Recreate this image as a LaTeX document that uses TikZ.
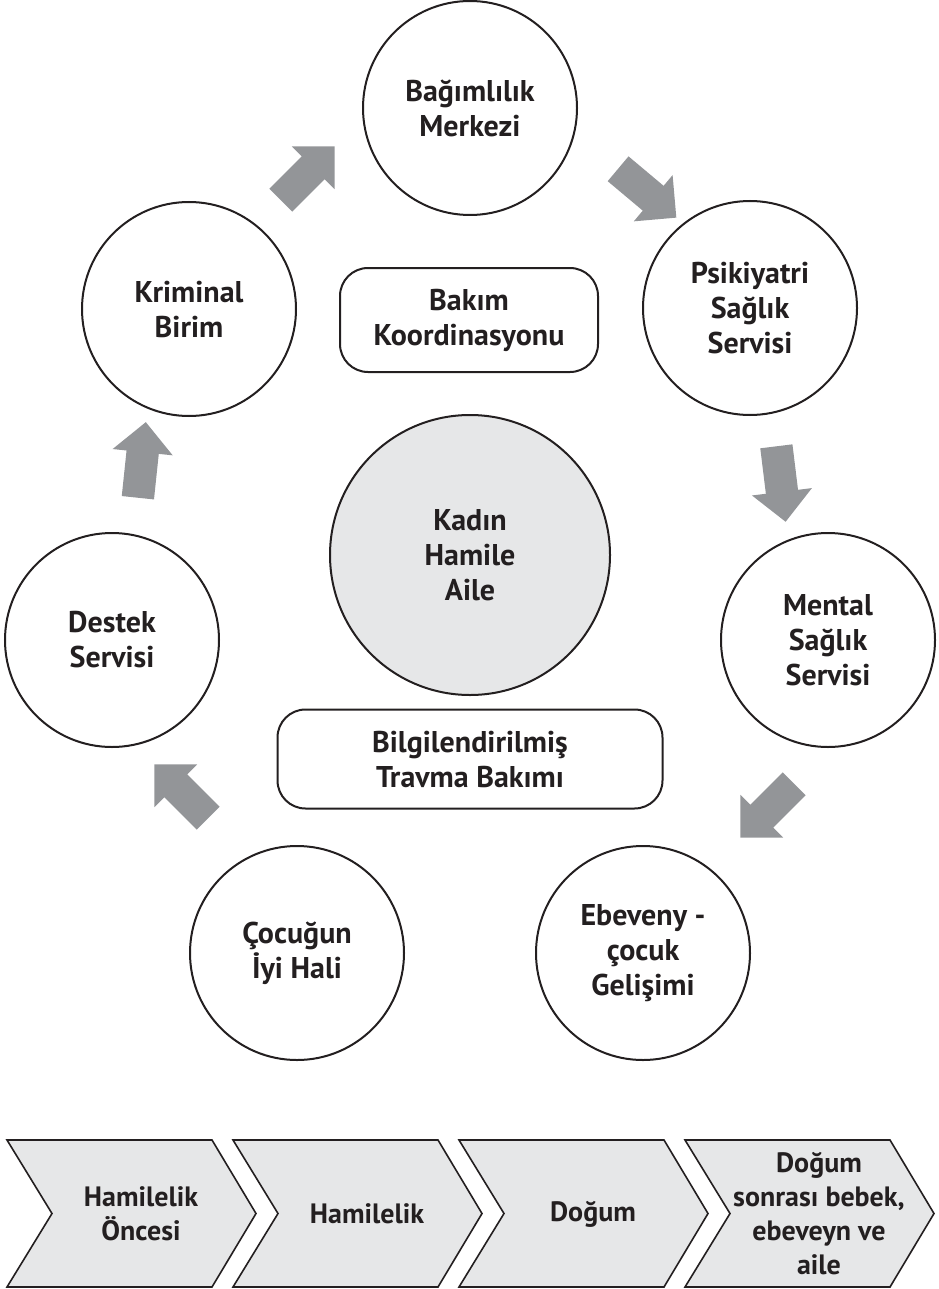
\documentclass[tikz,border=0pt]{standalone}
\usepackage{fontspec}
\setmainfont{PT Sans}
\usetikzlibrary{shapes.arrows}
\definecolor{CareGray}{RGB}{230,231,232}
\definecolor{FlowGray}{RGB}{147,149,152}
\definecolor{InkBlack}{RGB}{35,31,32}

\begin{document}
\begin{tikzpicture}[x=1pt,y=1pt,
  every node/.style={text=InkBlack,align=center,font=\bfseries\fontsize{30}{35}\selectfont},
  station/.style={circle,draw=InkBlack,line width=2pt,minimum size=214pt,inner sep=0pt},
  careframe/.style={rectangle,rounded corners=28pt,draw=InkBlack,line width=2pt,inner sep=0pt},
  flow/.style={single arrow,fill=FlowGray,draw=none,inner xsep=0pt,inner ysep=16pt,
    minimum height=76pt,single arrow head extend=14pt,single arrow tip angle=90},
  phase/.style={fill=CareGray,draw=InkBlack,line width=1.6pt,line join=miter},
  phasetext/.style={font=\bfseries\fontsize{28}{34}\selectfont}]
\useasboundingbox (0,0) rectangle (938,-1289);

% ring of services
\node[station] (bag) at (470,-108) {Bağımlılık\\Merkezi};
\node[station] (krim) at (189,-309) {Kriminal\\Birim};
\node[station] (psik) at (750,-308) {Psikiyatri\\Sağlık\\Servisi};
\node[station] (dest) at (112,-640) {Destek\\Servisi};
\node[station] (ment) at (828,-640) {Mental\\Sağlık\\Servisi};
\node[station] (cocuk) at (297,-953) {Çocuğun\\İyi Hali};
\node[station] (ebev) at (643,-953) {Ebeveny -\\çocuk\\Gelişimi};

% centre
\node[station,fill=CareGray,minimum size=280pt] (kadin) at (470,-555) {Kadın\\Hamile\\Aile};
\node[careframe,minimum width=258pt,minimum height=104pt] (koord) at (469,-320) {Bakım\\Koordinasyonu};
\node[careframe,minimum width=385pt,minimum height=99pt] (travma) at (470,-759) {Bilgilendirilmiş\\Travma Bakımı};

% block arrows round the ring
\node[flow,rotate=45] (f1) at (302,-179) {};
\node[flow,rotate=-40] (f2) at (641,-188) {};
\node[flow,rotate=-83] (f3) at (780,-476) {};
\node[flow,rotate=-135] (f4) at (773,-805) {};
\node[flow,rotate=135] (f5) at (187,-797) {};
\node[flow,rotate=84] (f6) at (141,-468) {};

% stages
\foreach \i/\lbl in {0/{Hamilelik\\Öncesi},1/{Hamilelik},2/{Doğum},3/{Doğum\\sonrası bebek,\\ebeveyn ve\\aile}} {
  \pgfmathsetmacro\xs{7+226*\i}
  \draw[phase] (\xs,-1140) -- ++(205,0) -- ++(44,-73.5) -- ++(-44,-73.5)
    -- ++(-205,0) -- ++(45,73.5) -- cycle;
  \node[phasetext] (stage\i) at (\xs+134,-1214) {\lbl};
}
\end{tikzpicture}
\end{document}
